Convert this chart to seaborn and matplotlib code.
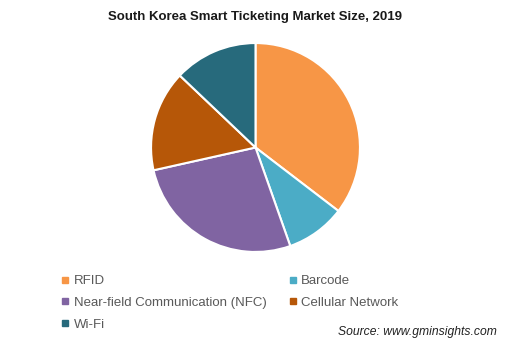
import matplotlib
matplotlib.use("Agg")
import matplotlib.pyplot as plt
from matplotlib.lines import Line2D
import seaborn as sns

categories = ["RFID", "Barcode", "Near-field Communication (NFC)", "Cellular Network", "Wi-Fi"]
shares = [35.4, 9.2, 26.9, 15.6, 12.9]
colors = ["#F79646", "#4BACC6", "#8064A2", "#B65708", "#276A7C"]

sns.set_theme(style="white")
plt.rcParams['font.family'] = ['Liberation Sans', 'DejaVu Sans']

W, H = 510, 343
fig = plt.figure(figsize=(W / 100, H / 100), dpi=100)
fig.patch.set_facecolor("white")

cx, cy, r = 255.5, 147.5, 105.5
ax = fig.add_axes([(cx - r) / W, (H - cy - r) / H, 2 * r / W, 2 * r / H])
ax.pie(shares, colors=colors, startangle=90, counterclock=False, radius=1,
       wedgeprops=dict(edgecolor="white", linewidth=1.5))
ax.set_xlim(-1.01, 1.01)
ax.set_ylim(-1.01, 1.01)
ax.set_aspect("equal")
ax.axis("off")

fig.text(255 / W, 1 - 17 / H, "South Korea Smart Ticketing Market Size, 2019",
         ha="center", va="center", fontsize=9.5, fontweight="bold", color="#1a1a1a")

order = [0, 2, 4, 1, 3]
handles = [Line2D([], [], marker="s", linestyle="none", markersize=5,
                  markerfacecolor=colors[i], markeredgecolor=colors[i]) for i in order]
labels = [categories[i] for i in order]
leg = fig.legend(handles, labels, ncol=2, loc="upper left",
                 bbox_to_anchor=(61 / W, 1 - 275 / H), frameon=False,
                 fontsize=9.5, handlelength=0.6, handletextpad=0.35,
                 columnspacing=1.7, labelspacing=0.72, borderpad=0, borderaxespad=0)
for t in leg.get_texts():
    t.set_color("#595959")

fig.text(497 / W, 1 - 332 / H, "Source: www.gminsights.com", ha="right", va="center",
         fontsize=8.7, fontstyle="italic", color="#222222")

fig.savefig("out.png", dpi=100, facecolor="white")
